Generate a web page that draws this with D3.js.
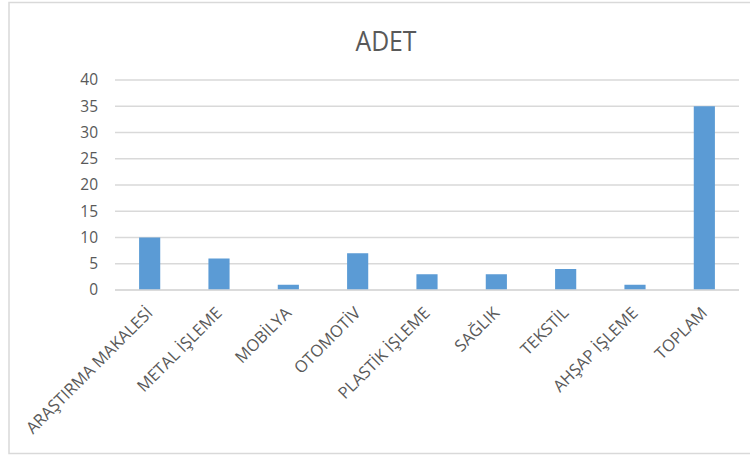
<!DOCTYPE html>
<html>
<head>
<meta charset="utf-8">
<script src="https://cdn.jsdelivr.net/npm/d3@7"></script>
<style>
  html, body { margin: 0; padding: 0; background: #fff; }
  svg { display: block; }
</style>
</head>
<body>
<svg id="chart" width="750" height="455"></svg>
<script>
// Bar chart: ADET by sector
const categories = ["ARAŞTIRMA MAKALESİ", "METAL İŞLEME", "MOBİLYA", "OTOMOTİV", "PLASTİK İŞLEME", "SAĞLIK", "TEKSTİL", "AHŞAP İŞLEME", "TOPLAM"];
const values = [10, 6, 1, 7, 3, 3, 4, 1, 35];
const yTicks = [0, 5, 10, 15, 20, 25, 30, 35, 40];
const title = "ADET";

const svg = d3.select("#chart");
const W = 750, H = 455;
const margin = { left: 115, right: 11, top: 80, bottom: 165 };
const textColor = "#595959";
const gridColor = "#d9d9d9";
const barColor = "#5b9bd5";
const font = "'Open Sans', 'Noto Sans', sans-serif";

// outer frame
svg.append("rect")
  .attr("x", 9).attr("y", 2.5)
  .attr("width", W + 10).attr("height", 451)
  .attr("fill", "#fff")
  .attr("stroke", gridColor).attr("stroke-width", 1.5);

const x = d3.scaleBand()
  .domain(categories)
  .range([margin.left, W - margin.right])
  .paddingInner(0.695)
  .paddingOuter(0.3475);

const y = d3.scaleLinear()
  .domain([0, 40])
  .range([290, 80]);

// horizontal gridlines
svg.append("g")
  .selectAll("line")
  .data(yTicks)
  .join("line")
  .attr("x1", margin.left).attr("x2", W - margin.right)
  .attr("y1", d => y(d)).attr("y2", d => y(d))
  .attr("stroke", gridColor).attr("stroke-width", 1.4);

// y axis labels
const yAxis = d3.axisLeft(y).tickValues(yTicks).tickSize(0).tickPadding(17);
const gy = svg.append("g").attr("transform", `translate(${margin.left},0)`).call(yAxis);
gy.select(".domain").remove();
gy.selectAll("text")
  .attr("fill", textColor)
  .style("font-family", font)
  .style("font-size", "15.5px");

// bars
svg.append("g")
  .selectAll("rect")
  .data(values)
  .join("rect")
  .attr("x", (d, i) => x(categories[i]))
  .attr("y", d => y(d))
  .attr("width", x.bandwidth())
  .attr("height", d => y(0) - y(d))
  .attr("fill", barColor);

// baseline
svg.append("line")
  .attr("x1", margin.left).attr("x2", W - margin.right)
  .attr("y1", y(0)).attr("y2", y(0))
  .attr("stroke", gridColor).attr("stroke-width", 1.6);

// category labels, rotated
svg.append("g")
  .selectAll("text")
  .data(categories)
  .join("text")
  .attr("transform", d => `translate(${x(d) + x.bandwidth() / 2 + 4},314) rotate(-45)`)
  .attr("text-anchor", "end")
  .attr("fill", textColor)
  .style("font-family", font)
  .style("font-size", "16.5px")
  .text(d => d);

// title
svg.append("text")
  .attr("x", 386).attr("y", 51)
  .attr("text-anchor", "middle")
  .attr("fill", textColor)
  .style("font-family", font)
  .style("font-size", "27px")
  .attr("textLength", 61)
  .attr("lengthAdjust", "spacingAndGlyphs")
  .text(title);
</script>
</body>
</html>
